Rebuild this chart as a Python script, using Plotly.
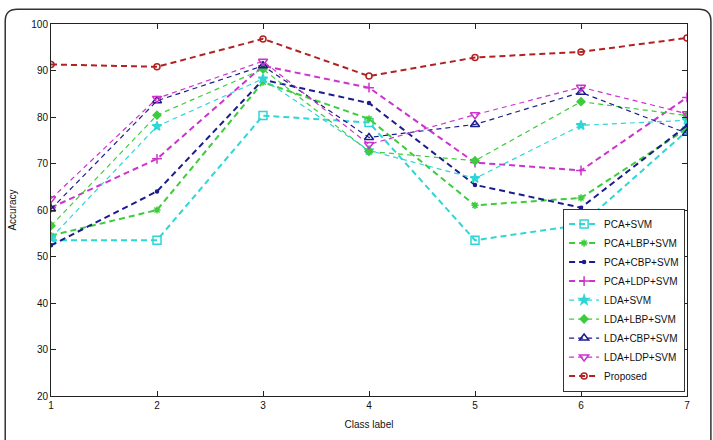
import plotly.graph_objects as go

classes = [1, 2, 3, 4, 5, 6, 7]
names = ["PCA+SVM", "PCA+LBP+SVM", "PCA+CBP+SVM", "PCA+LDP+SVM",
         "LDA+SVM", "LDA+LBP+SVM", "LDA+CBP+SVM", "LDA+LDP+SVM", "Proposed"]

pca_svm = [53.5, 53.5, 80.3, 78.8, 53.5, 56.8, 77.0]
pca_lbp = [54.5, 60.0, 87.5, 79.6, 61.0, 62.6, 77.5]
pca_cbp = [52.4, 64.0, 88.0, 83.0, 65.4, 60.5, 78.2]
pca_ldp = [60.5, 71.0, 91.0, 86.3, 70.2, 68.5, 84.2]
lda_svm = [54.0, 78.0, 88.2, 72.8, 66.8, 78.2, 79.3]
lda_lbp = [56.6, 80.4, 90.3, 72.6, 70.6, 83.3, 80.3]
lda_cbp = [60.2, 83.5, 91.0, 75.6, 78.4, 85.3, 76.5]
lda_ldp = [62.4, 84.0, 92.0, 74.1, 80.5, 86.4, 80.7]
proposed = [91.3, 90.8, 96.8, 88.8, 92.8, 94.0, 97.0]

series = [pca_svm, pca_lbp, pca_cbp, pca_ldp, lda_svm, lda_lbp, lda_cbp, lda_ldp, proposed]

colors = ["#2fd6d6", "#3ccc3c", "#1c1c8c", "#cc33cc",
          "#2fd6d6", "#3ccc3c", "#1c1c8c", "#cc33cc", "#b22222"]
symbols = ["square-open", "asterisk-open", "circle", "cross-thin-open",
           "star", "diamond", "triangle-up-open", "triangle-down-open", "circle-open"]
sizes = [8, 6, 3, 7, 7, 6, 8, 8, 6]
widths = [2, 2, 2, 2, 1.2, 1.2, 1.2, 1.2, 2]
dashes = ["6px,4px"] * 4 + ["5px,4px"] * 4 + ["6px,4px"]

fig = go.Figure()
for name, vals, c, s, sz, w, d in zip(names, series, colors, symbols, sizes, widths, dashes):
    fig.add_trace(go.Scatter(
        x=classes, y=vals, name=name, mode="lines+markers",
        line=dict(color=c, width=w, dash=d),
        marker=dict(symbol=s, size=sz, color=c, line=dict(color=c, width=1.5)),
    ))

axis_common = dict(
    showgrid=False, zeroline=False, showline=True, linecolor="#222", linewidth=1,
    mirror="ticks", ticks="inside", ticklen=5, tickcolor="#222",
    tickfont=dict(family="Liberation Sans", size=10, color="#111"),
)

fig.update_layout(
    width=713, height=440,
    margin=dict(l=48, r=26, t=24, b=39),
    paper_bgcolor="white", plot_bgcolor="white",
    font=dict(family="Liberation Sans", size=10, color="#111"),
    xaxis=dict(range=[1, 7], dtick=1, title=dict(text="Class label", standoff=10,
               font=dict(size=10)), **axis_common),
    yaxis=dict(range=[20, 100], dtick=10, title=dict(text="Accuracy", standoff=12,
               font=dict(size=10)), **axis_common),
    legend=dict(x=0.997, y=0.012, xanchor="right", yanchor="bottom",
                bgcolor="white", bordercolor="#333", borderwidth=1,
                font=dict(family="Liberation Sans", size=10, color="#111"),
                tracegroupgap=0, itemwidth=30),
    showlegend=True,
)

# outer rounded frame (figure border)
L = (2 - 48) / 639
R = (711 - 48) / 639
T = (401 - 9) / 377
B = (401 - 460) / 377
rx = 12 / 639
ry = 12 / 377
path = (f"M {L+rx},{T} L {R-rx},{T} Q {R},{T} {R},{T-ry} "
        f"L {R},{B} L {L},{B} L {L},{T-ry} Q {L},{T} {L+rx},{T} Z")
fig.add_shape(type="path", path=path, xref="paper", yref="paper",
              line=dict(color="#333", width=1.5), layer="below")

fig.write_html("out.html")
